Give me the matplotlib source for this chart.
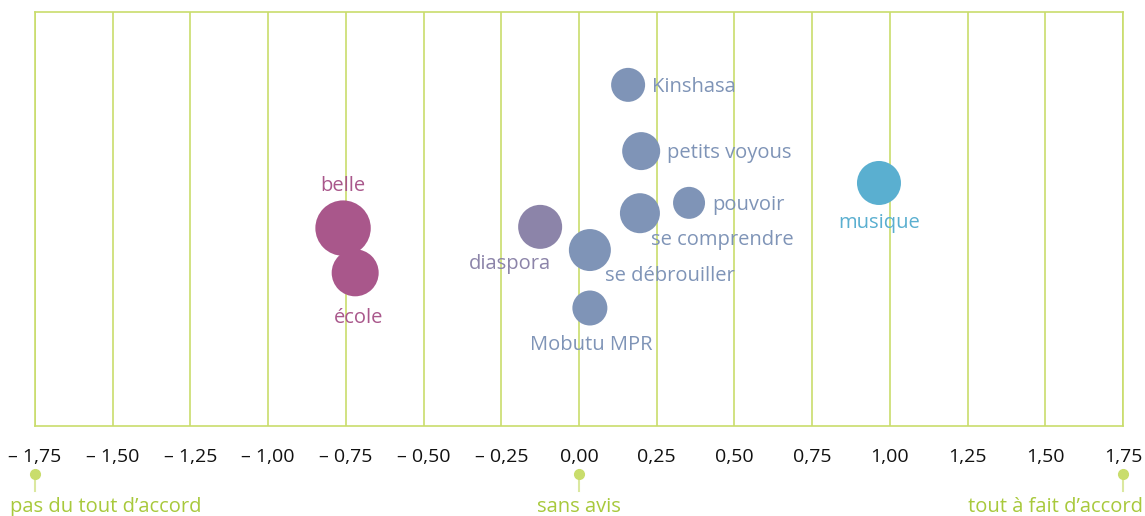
import numpy as np
import matplotlib.pyplot as plt

plt.rcParams['font.family'] = ['Open Sans', 'DejaVu Sans']

# mots, score moyen (x), position verticale, taille de bulle (rayon relatif)
mots = ["Kinshasa", "petits voyous", "pouvoir", "se comprendre", "diaspora",
        "se débrouiller", "Mobutu MPR", "belle", "école", "musique"]
scores = [0.158, 0.20, 0.354, 0.196, -0.125, 0.035, 0.035, -0.759, -0.72, 0.965]
rangs = [8.24, 6.64, 5.39, 5.14, 4.81, 4.25, 2.85, 4.78, 3.70, 5.87]
poids = [17, 19, 16, 20, 22, 21, 17.5, 27.7, 23.5, 22]
groupes = ["b", "b", "b", "b", "d", "b", "b", "m", "m", "c"]

ticks = np.arange(-1.75, 1.76, 0.25)
tick_labels = [("– " if t < -1e-9 else "") + "{:.2f}".format(abs(t)).replace(".", ",")
               for t in ticks]

couleurs = {"b": "#7f94b7", "d": "#8c84a9", "m": "#a9578b", "c": "#5aafd0"}
vert = "#c9dd6c"

# où poser chaque étiquette (décalage en pixels, alignement)
place = {
    "Kinshasa": (24, -2, "left", "center"),
    "petits voyous": (26, -2, "left", "center"),
    "pouvoir": (23, -2, "left", "center"),
    "se comprendre": (11, -27, "left", "center"),
    "diaspora": (11, -37, "right", "center"),
    "se débrouiller": (15, -26, "left", "center"),
    "Mobutu MPR": (1, -37, "center", "center"),
    "belle": (0, 42, "center", "center"),
    "école": (3, -45, "center", "center"),
    "musique": (0, -40, "center", "center"),
}

fig = plt.figure(figsize=(11.45, 5.16), dpi=100)
ax = fig.add_axes([35/1145, 90/516, 1088/1145, 414/516])

ax.set_xlim(-1.75, 1.75)
ax.set_ylim(0, 10)
for t in ticks:
    ax.axvline(t, color=vert, lw=1.2, zorder=0)
for s in ax.spines.values():
    s.set_color(vert)
    s.set_linewidth(1.2)

ax.set_yticks([])
ax.set_xticks(ticks, tick_labels)
ax.tick_params(axis='x', length=0, pad=16, labelsize=14, labelcolor="#111111")

for m, x, y, r, g in zip(mots, scores, rangs, poids, groupes):
    c = couleurs[g]
    ax.scatter([x], [y], s=(1.44*r)**2, color=c, edgecolors='none', zorder=3)
    dx, dy, ha, va = place[m]
    ax.annotate(m, (x, y), xytext=(dx, dy), textcoords='offset pixels',
                ha=ha, va=va, color=c, fontsize=14.5, zorder=4)

# échelle d'accord sous l'axe
tr = ax.get_xaxis_transform()
reperes = [(-1.75, "pas du tout d’accord", -25, "left"),
           (0.0, "sans avis", 0, "center"),
           (1.75, "tout à fait d’accord", 20, "right")]
for x, txt, dx, ha in reperes:
    ax.plot([x, x], [-0.116, -0.157], color="#dbe8a0", lw=1.5,
            transform=tr, clip_on=False)
    ax.plot([x], [-0.116], 'o', ms=7, color=vert, transform=tr, clip_on=False)
    ax.annotate(txt, (x, -0.196), xycoords=tr, xytext=(dx, 0),
                textcoords='offset pixels', ha=ha, va='center',
                color="#a8c93c", fontsize=14.5)

plt.savefig("out.png", dpi=100)
